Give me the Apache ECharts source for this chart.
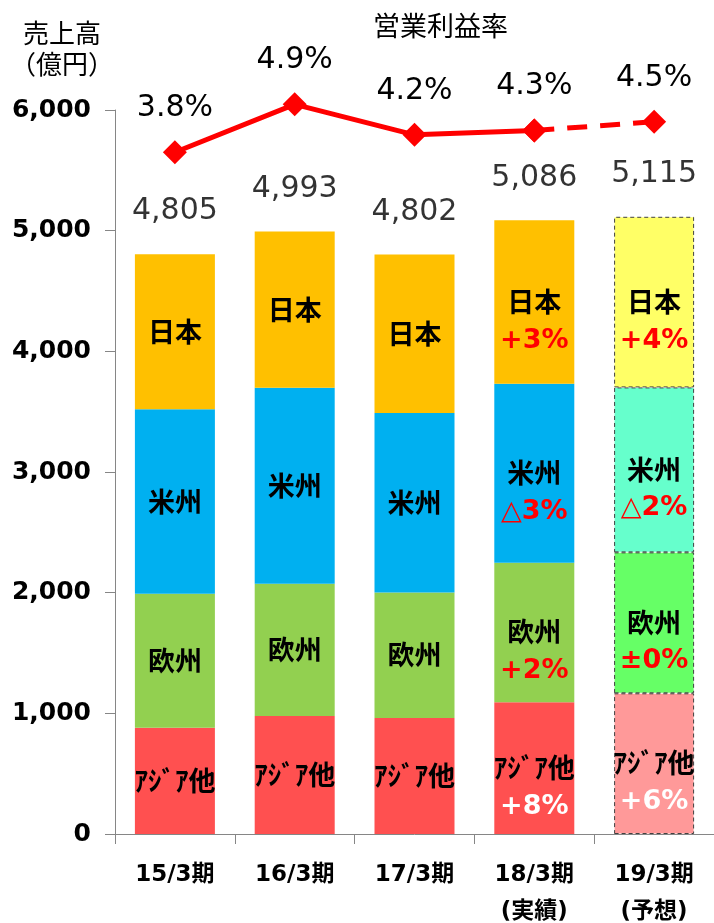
<!DOCTYPE html>
<html>
<head>
<meta charset="utf-8">
<script src="https://cdn.jsdelivr.net/npm/echarts@6/dist/echarts.min.js"></script>
<style>
  html, body { margin: 0; padding: 0; background: #fff; overflow: hidden; }
  #chart { width: 714px; height: 923px; }
</style>
</head>
<body>
<div id="chart"></div>
<script>
// data
const categories = ["15/3期", "16/3期", "17/3期", "18/3期", "19/3期"];
const subLabels = ["", "", "", "(実績)", "(予想)"];
const asia = [881, 978, 961, 1091, 1166];
const europe = [1110, 1096, 1041, 1157, 1168];
const americas = [1530, 1624, 1486, 1483, 1367];
const japan = [1284, 1295, 1314, 1355, 1414];
const totals = [4805, 4993, 4802, 5086, 5115];
const margin = [3.8, 4.9, 4.2, 4.3, 4.5];
const japanChg = ["", "", "", "+3%", "+4%"];
const americasChg = ["", "", "", "△3%", "△2%"];
const europeChg = ["", "", "", "+2%", "±0%"];
const asiaChg = ["", "", "", "+8%", "+6%"];
const yTicks = [0, 1000, 2000, 3000, 4000, 5000, 6000];

const NUM_FONT = '"DejaVu Sans", "Noto Sans CJK JP", sans-serif';
const JP_FONT = '"Noto Sans CJK JP", "DejaVu Sans", sans-serif';
const forecastIdx = 4;

const myChart = echarts.init(document.getElementById("chart"));

function segSeries(name, values, chg, color, lightColor, chgColor) {
  return {
    name: name,
    type: "bar",
    stack: "sales",
    barWidth: 80,
    xAxisIndex: 0,
    yAxisIndex: 0,
    data: values.map((v, i) => {
      const hasChg = chg[i] !== "";
      const item = {
        value: v,
        label: {
          show: true,
          position: "inside",
          offset: [0, hasChg ? 19 : 0],
          formatter: hasChg ? "{n|" + name + "}\n{c|" + chg[i] + "}" : "{n|" + name + "}",
        },
      };
      // 予想は薄い色＋破線枠
      if (i === forecastIdx) {
        item.itemStyle = {
          color: lightColor,
          borderColor: "#404040",
          borderWidth: 1,
          borderType: [4, 3],
        };
      }
      return item;
    }),
    itemStyle: { color: color },
    label: {
      rich: {
        n: {
          fontFamily: JP_FONT,
          fontWeight: "bold",
          fontSize: 27,
          color: "#000",
          lineHeight: 39,
        },
        c: {
          fontFamily: NUM_FONT,
          fontWeight: "bold",
          fontSize: 27,
          color: chgColor,
          lineHeight: 39,
        },
      },
    },
  };
}

myChart.setOption({
  animation: false,
  backgroundColor: "#fff",
  graphic: [
    {
      type: "text",
      left: 23,
      top: 20,
      style: { text: "売上高", font: '26px "Noto Sans CJK JP"', fill: "#000" },
    },
    {
      type: "text",
      left: 10,
      top: 51,
      style: { text: "（億円）", font: '26px "Noto Sans CJK JP"', fill: "#000" },
    },
    {
      type: "text",
      left: 373,
      top: 12,
      style: { text: "営業利益率", font: '27px "Noto Sans CJK JP"', fill: "#000" },
    },
  ],
  grid: [
    { left: 115, width: 599, top: 110, height: 724, outerBoundsMode: "none" },
    { left: 115, width: 599, top: 100, height: 61, outerBoundsMode: "none" },
  ],
  xAxis: [
    {
      type: "category",
      gridIndex: 0,
      data: categories.map((c, i) => (subLabels[i] ? c + "\n" + subLabels[i] : c)),
      axisLine: { lineStyle: { color: "#868686", width: 1 } },
      axisTick: { show: true, length: 10, lineStyle: { color: "#868686" } },
      axisLabel: {
        color: "#000",
        fontFamily: NUM_FONT,
        fontWeight: "bold",
        fontSize: 23,
        lineHeight: 37,
        margin: 23,
      },
    },
    {
      type: "category",
      gridIndex: 1,
      data: categories,
      show: false,
    },
  ],
  yAxis: [
    {
      type: "value",
      gridIndex: 0,
      min: yTicks[0],
      max: yTicks[yTicks.length - 1],
      interval: 1000,
      axisLine: { show: true, lineStyle: { color: "#868686", width: 1 } },
      axisTick: { show: true, length: 10, lineStyle: { color: "#868686" } },
      splitLine: { show: false },
      axisLabel: {
        color: "#000",
        fontFamily: NUM_FONT,
        fontWeight: "bold",
        fontSize: 25,
        margin: 24,
        formatter: (v) => v.toLocaleString("en-US"),
      },
    },
    {
      type: "value",
      gridIndex: 1,
      min: 3.6,
      max: 5.0,
      show: false,
      splitLine: { show: false },
    },
  ],
  series: [
    segSeries("ｱｼﾞｱ他", asia, asiaChg, "#FF5050", "#FF9999", "#fff"),
    segSeries("欧州", europe, europeChg, "#92D050", "#66FF66", "#FF0000"),
    segSeries("米州", americas, americasChg, "#00B0F0", "#66FFCC", "#FF0000"),
    segSeries("日本", japan, japanChg, "#FFC000", "#FFFF66", "#FF0000"),
    {
      // 棒の上の合計
      name: "total",
      type: "scatter",
      xAxisIndex: 0,
      yAxisIndex: 0,
      symbolSize: 1,
      itemStyle: { color: "rgba(0,0,0,0)" },
      data: totals,
      label: {
        show: true,
        position: "top",
        distance: 27,
        fontFamily: NUM_FONT,
        fontSize: 30,
        color: "#000",
        formatter: (p) => p.value.toLocaleString("en-US"),
      },
      z: 5,
    },
    {
      name: "営業利益率",
      type: "line",
      xAxisIndex: 1,
      yAxisIndex: 1,
      clip: false,
      data: margin.map((v, i) => (i < forecastIdx ? v : "-")),
      symbol: "diamond",
      symbolSize: 24,
      lineStyle: { color: "#FF0000", width: 5 },
      itemStyle: { color: "#FF0000" },
      label: {
        show: true,
        position: "top",
        distance: 17,
        fontFamily: NUM_FONT,
        fontSize: 30,
        color: "#000",
        formatter: (p) => p.value.toFixed(1) + "%",
      },
      z: 10,
    },
    {
      name: "営業利益率予想",
      type: "line",
      xAxisIndex: 1,
      yAxisIndex: 1,
      clip: false,
      data: margin.map((v, i) => (i >= forecastIdx - 1 ? v : "-")),
      symbol: "diamond",
      symbolSize: 24,
      lineStyle: { color: "#FF0000", width: 5, type: [20, 13] },
      itemStyle: { color: "#FF0000" },
      label: {
        show: true,
        position: "top",
        distance: 17,
        fontFamily: NUM_FONT,
        fontSize: 30,
        color: "#000",
        formatter: (p) => (p.dataIndex === forecastIdx ? p.value.toFixed(1) + "%" : ""),
      },
      z: 9,
    },
  ],
});
</script>
</body>
</html>
